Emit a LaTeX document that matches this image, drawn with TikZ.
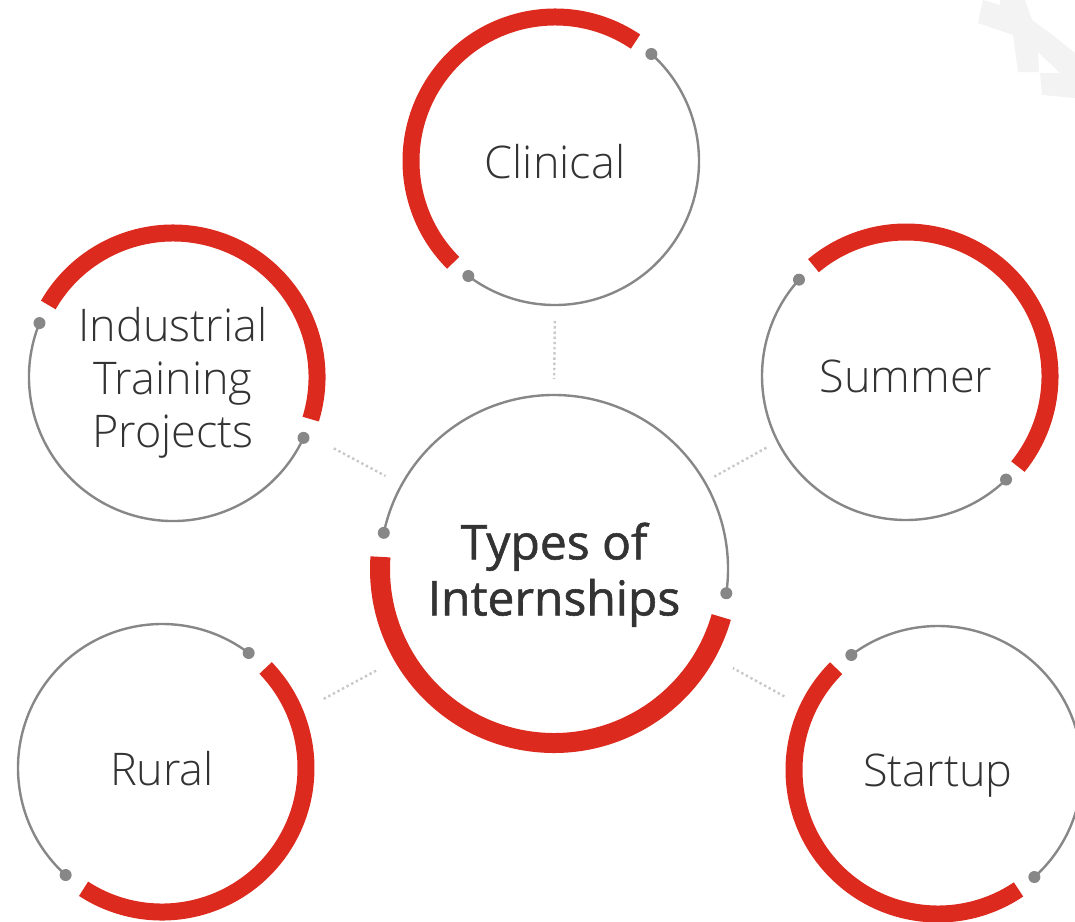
\documentclass[tikz,border=0pt]{standalone}
\usepackage{fontspec}
\setmainfont{Open Sans}[UprightFont=* Light, BoldFont=*]
\newfontfamily\hubfont{Open Sans}[FakeBold=1.2]
\usetikzlibrary{calc,positioning}
\definecolor{ringred}{HTML}{DC2B1E}
\definecolor{ringgray}{HTML}{878787}
\definecolor{linkgray}{HTML}{C8C8C8}
\definecolor{labelgray}{HTML}{333333}
\definecolor{markgray}{HTML}{F3F3F3}

\begin{document}
\begin{tikzpicture}[x=0.5pt,y=0.5pt]
	\tikzstyle{topic}=[circle, minimum size=144pt, inner sep=0pt, outer sep=0pt, text=labelgray, align=center, text depth=0pt, font=\fontsize{22.5}{26.5}\selectfont]
	\tikzstyle{hubtopic}=[topic, minimum size=174pt, font=\hubfont\fontsize{24}{28}\selectfont]
	\tikzstyle{redarc}=[draw=ringred, line width=8.5pt]
	\tikzstyle{grayarc}=[draw=ringgray, line width=1.2pt]
	\tikzstyle{link}=[draw=linkgray, line width=1.2pt, dash pattern=on 1.2pt off 1.4pt]
	\useasboundingbox (0,0) rectangle (1075,-921);
	% faint mark in the corner
	\fill[markgray] (978,-23) -- (983,0) -- (1000,-5) -- (1000,0) -- (1025,0) -- (1032,-20) -- (1050,-33) -- (1075,-53) -- (1075,-98) -- (1042,-95) -- (1040,-73) -- (1060,-73) -- (1038,-52) -- (1039,-72) -- (1018,-72) -- (1013,-35) -- cycle;
	% circles
	\node[hubtopic] (hub) at (554,-569) {Types of\\Internships};
	\node[topic] (clin) at (555,-161) {Clinical};
	\node[topic] (ind) at (173,-377) {Industrial\\Training\\Projects};
	\node[topic] (sum) at (906,-376) {Summer};
	\node[topic] (rur) at (162,-768) {Rural};
	\node[topic] (start) at (938,-770) {Startup};
	% dotted links
	\draw[link, shorten <=8pt, shorten >=8pt] (clin.-90) -- (hub.90);
	\draw[link, shorten <=16pt, shorten >=9.25pt] (ind.-23) -- (hub.151);
	\draw[link, shorten <=6.5pt, shorten >=4.85pt] (sum.207) -- (hub.30);
	\draw[link, shorten <=16pt, shorten >=15.5pt] (rur.22) -- (hub.210);
	\draw[link, shorten <=13.2pt, shorten >=15.25pt] (start.155) -- (hub.-29);
	% hub ring
	\draw[redarc, line width=10pt] (hub.176) arc[start angle=176, end angle=344, radius=174];
	\draw[grayarc] (hub.-8) arc[start angle=-8, end angle=168, radius=174];
	\fill[ringgray] (hub.-8) circle[radius=6];
	\fill[ringgray] (hub.168) circle[radius=6];
	% Clinical
	\draw[redarc] (clin.56) arc[start angle=56, end angle=225, radius=144];
	\draw[grayarc] (clin.233) arc[start angle=233, end angle=408, radius=144];
	\fill[ringgray] (clin.233) circle[radius=6];
	\fill[ringgray] (clin.48) circle[radius=6];
	% Industrial
	\draw[redarc] (ind.-17) arc[start angle=-17, end angle=150, radius=144];
	\draw[grayarc] (ind.158) arc[start angle=158, end angle=335, radius=144];
	\fill[ringgray] (ind.158) circle[radius=6];
	\fill[ringgray] (ind.335) circle[radius=6];
	% Summer
	\draw[redarc] (sum.-39) arc[start angle=-39, end angle=130, radius=144];
	\draw[grayarc] (sum.138) arc[start angle=138, end angle=314, radius=144];
	\fill[ringgray] (sum.138) circle[radius=6];
	\fill[ringgray] (sum.314) circle[radius=6];
	% Rural
	\draw[redarc] (rur.237) arc[start angle=237, end angle=404, radius=144];
	\draw[grayarc] (rur.53) arc[start angle=53, end angle=228, radius=144];
	\fill[ringgray] (rur.53) circle[radius=6];
	\fill[ringgray] (rur.228) circle[radius=6];
	% Startup
	\draw[redarc] (start.135) arc[start angle=135, end angle=304, radius=144];
	\draw[grayarc] (start.312) arc[start angle=312, end angle=487, radius=144];
	\fill[ringgray] (start.312) circle[radius=6];
	\fill[ringgray] (start.127) circle[radius=6];
\end{tikzpicture}
\end{document}
